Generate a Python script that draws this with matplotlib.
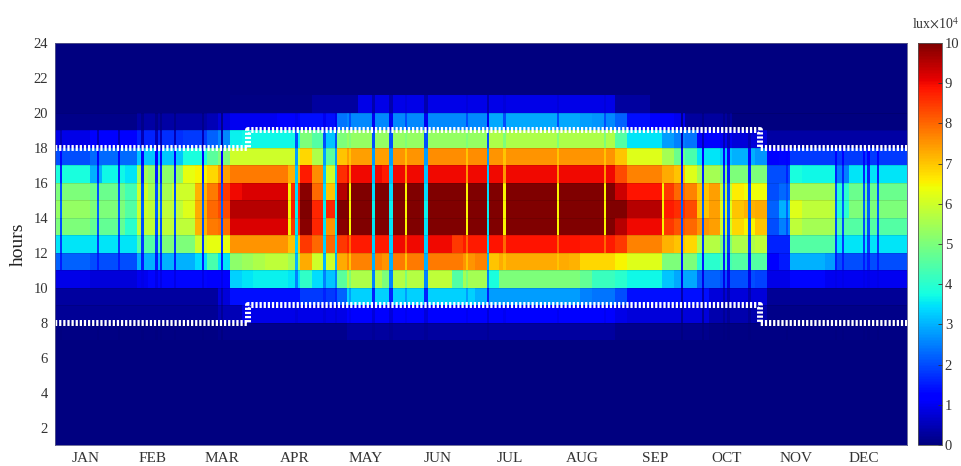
import numpy as np
import matplotlib
matplotlib.use('Agg')
import matplotlib.pyplot as plt

plt.rcParams['font.family'] = ['Liberation Serif', 'DejaVu Serif']

months = ['JAN', 'FEB', 'MAR', 'APR', 'MAY', 'JUN', 'JUL', 'AUG', 'SEP', 'OCT', 'NOV', 'DEC']
month_pos = [13, 41.6, 71.5, 102.8, 133, 164, 195, 226, 257, 287.5, 317.5, 346.6]

# illuminance in 10^4 lux, one value per 5 days (73 columns)
h7 = [.05, .05, .05, .05, .05, .05, .05, .05, .05, .05,
      .05, .05, .05, .05, .15, .15, .15, .15, .15, .15,
      .15, .15, .15, .15, .15, .3, .3, .3, .3, .3,
      .3, .3, .3, .3, .3, .3, .3, .3, .3, .3,
      .3, .3, .3, .3, .3, .3, .3, .3, .15, .15,
      .15, .15, .15, .15, .15, .15, .05, .05, .05, .05,
      .05, .05, .05, .05, .05, .05, .05, .05, .05, .05,
      .05, .05, .05]
h8 = [.2, .2, .2, .2, .2, .2, .2, .2, .2, .2,
      .2, .2, .2, .2, .5, .5, .9, .9, .9, .9,
      .9, .9, .9, .9, .9, 1.1, 1.1, 1.1, 1.1, 1.1,
      1.1, 1.1, 1.1, 1.1, 1.1, 1.1, 1.1, 1.1, 1.1, 1.1,
      1.1, 1.1, 1.1, 1.1, 1.1, 1.1, 1.1, 1.1, .9, .8,
      .8, .8, .8, .8, .8, .8, .4, .4, .4, .4,
      .4, .1, .1, .1, .1, .1, .1, .1, .1, .1,
      .1, .1, .1]
h9 = [.3, .3, .3, .3, .3, .3, .3, .3, .3, .3,
      .3, .3, .3, .3, .8, 1.4, 1.4, 1.4, 1.4, 1.4,
      1.4, 1.8, 1.8, 1.8, 2.2, 3.3, 3.3, 3.3, 3.3, 3.3,
      3.3, 3.3, 3.3, 3.3, 3.3, 3.3, 3.0, 2.8, 2.8, 2.8,
      2.8, 2.8, 2.8, 2.8, 2.8, 2.5, 2.4, 2.4, 2.0, 1.4,
      1.4, 1.4, 1.4, 1.4, 1.4, 1.4, .8, .8, .8, .8,
      .8, .2, .2, .2, .2, .2, .2, .2, .2, .2,
      .2, .2, .2]
h10 = [.9, .9, .9, .8, .8, .8, .8, 1.0, 1.3, 1.3,
       1.3, 1.3, 1.3, 1.2, 1.2, 3.3, 3.5, 3.6, 3.6, 3.6,
       3.5, 4.1, 3.4, 3.2, 4.6, 5.6, 5.6, 5.6, 5.0, 5.7,
       5.7, 5.7, 5.8, 5.8, 4.5, 5.5, 5.5, 3.8, 5.0, 5.0,
       5.0, 5.0, 5.0, 5.0, 5.0, 4.7, 4.2, 4.2, 4.0, 3.7,
       3.7, 3.7, 3.2, 2.9, 2.9, 2.2, 2.2, 2.0, 2.0, 2.0,
       1.9, .9, .9, 1.3, 1.3, 1.3, 1.0, 1.0, 1.0, 1.0,
       1.0, 1.0, 1.0]
h11 = [2.2, 2.2, 2.2, 2.0, 2.0, 2.0, 2.0, 3.0, 3.0, 3.0,
       3.0, 3.0, 3.4, 4.4, 3.5, 5.2, 5.4, 5.6, 5.8, 5.8,
       5.5, 7.3, 6.0, 6.0, 7.3, 7.7, 7.7, 7.7, 7.5, 7.8,
       7.8, 7.8, 7.8, 7.8, 7.8, 7.5, 7.7, 7.0, 7.3, 7.3,
       7.3, 7.3, 7.3, 7.3, 7.2, 6.8, 6.8, 6.8, 6.5, 6.2,
       6.2, 6.2, 5.0, 5.0, 5.0, 4.0, 4.0, 4.3, 4.5, 4.5,
       4.5, 1.2, 1.5, 3.0, 3.0, 3.0, 2.8, 2.0, 2.0, 2.0,
       2.0, 2.0, 2.0]
h12 = [3.5, 3.5, 3.5, 3.5, 3.5, 3.5, 3.5, 4.5, 4.5, 5.0,
       5.0, 5.0, 6.0, 6.3, 6.3, 7.5, 7.5, 7.5, 7.5, 7.5,
       7.0, 8.5, 8.0, 8.0, 8.5, 8.8, 8.8, 8.8, 8.8, 9.0,
       9.0, 9.0, 9.0, 9.0, 8.5, 8.8, 8.8, 8.9, 8.9, 8.9,
       8.9, 8.9, 8.9, 8.9, 8.9, 8.8, 8.8, 8.8, 8.5, 7.7,
       7.7, 7.7, 7.2, 7.0, 6.8, 5.7, 5.7, 5.0, 5.6, 5.6,
       5.8, 1.6, 1.6, 4.5, 4.5, 4.5, 4.5, 3.5, 3.5, 3.5,
       3.5, 3.5, 3.5]
h13 = [5.0, 5.0, 5.0, 4.7, 4.7, 4.7, 4.0, 5.8, 5.8, 5.8,
       5.8, 5.8, 7.2, 7.8, 7.9, 9.2, 9.2, 9.2, 9.2, 9.2,
       8.5, 9.9, 8.7, 7.5, 9.9, 10, 10, 10, 10, 10,
       10, 10, 10, 10, 10, 10, 10, 10, 10, 10,
       10, 10, 10, 10, 10, 10, 10, 10, 9.5, 9.0,
       9.0, 9.0, 8.5, 8.2, 8.0, 7.5, 7.4, 6.0, 6.8, 6.5,
       7.0, 2.0, 2.5, 5.8, 5.5, 5.5, 5.5, 4.5, 4.5, 4.5,
       4.5, 4.5, 4.5]
h14 = [5.3, 5.3, 5.3, 5.0, 5.0, 5.0, 4.5, 6.0, 5.8, 5.8,
       5.8, 6.2, 7.3, 8.0, 8.3, 9.5, 9.5, 9.5, 9.5, 9.5,
       8.8, 10, 8.7, 8.7, 10, 10, 10, 10, 10, 10,
       10, 10, 10, 10, 10, 10, 10, 10, 10, 10,
       10, 10, 10, 10, 10, 10, 10, 10, 10, 9.5,
       9.5, 9.5, 8.8, 8.6, 8.3, 7.0, 7.4, 6.2, 7.0, 7.2,
       7.3, 2.2, 3.0, 6.2, 5.8, 5.8, 5.8, 4.0, 5.0, 5.0,
       5.0, 5.0, 5.0]
h15 = [5.0, 5.0, 5.0, 4.8, 4.8, 4.8, 4.3, 6.0, 5.5, 5.5,
       6.0, 6.0, 7.2, 7.8, 8.5, 9.0, 9.2, 9.2, 9.2, 9.2,
       8.6, 9.9, 8.0, 7.0, 9.5, 10, 10, 10, 10, 10,
       10, 10, 10, 10, 10, 10, 10, 10, 10, 10,
       10, 10, 10, 10, 10, 10, 10, 10, 9.3, 8.9,
       8.9, 8.9, 8.5, 8.0, 7.7, 7.0, 7.4, 5.8, 6.6, 6.4,
       6.4, 2.0, 2.3, 5.4, 5.4, 5.4, 5.4, 4.0, 4.8, 4.8,
       4.8, 4.8, 4.8]
h16 = [3.8, 3.8, 3.8, 3.0, 3.7, 3.7, 3.5, 5.5, 5.2, 5.2,
       5.2, 6.3, 6.5, 6.8, 7.4, 7.8, 7.8, 7.8, 7.8, 7.8,
       7.2, 8.8, 7.6, 6.0, 8.6, 9.0, 9.0, 9.0, 8.8, 9.0,
       9.0, 9.0, 9.0, 9.0, 9.0, 9.0, 9.0, 9.0, 9.0, 9.0,
       9.0, 9.0, 9.0, 9.0, 9.0, 9.0, 9.0, 9.0, 8.3, 7.7,
       7.7, 7.7, 7.3, 7.0, 6.2, 5.5, 5.5, 5.0, 5.0, 5.0,
       5.0, 2.0, 2.0, 3.8, 3.7, 3.7, 3.7, 2.5, 3.5, 3.5,
       3.5, 3.5, 3.5]
h17 = [2.0, 2.0, 2.0, 2.3, 2.3, 2.3, 2.3, 3.2, 3.2, 3.2,
       3.2, 3.8, 3.8, 4.6, 5.0, 6.0, 6.0, 6.0, 6.0, 6.0,
       6.0, 6.8, 5.6, 4.6, 7.0, 7.4, 7.4, 7.4, 7.4, 7.5,
       7.5, 7.5, 7.6, 7.6, 7.6, 7.6, 7.6, 7.5, 7.5, 7.5,
       7.5, 7.5, 7.5, 7.5, 7.5, 7.5, 7.5, 7.5, 7.0, 6.2,
       6.2, 6.2, 5.5, 4.8, 4.4, 3.5, 3.5, 3.2, 3.0, 3.0,
       2.7, 1.2, 1.3, 1.8, 1.8, 1.8, 1.8, 1.8, 1.8, 1.8,
       1.8, 1.8, 1.8]
h18 = [.9, .9, .9, 1.2, 1.2, 1.2, 1.2, 1.6, 1.6, 1.7,
       1.7, 1.8, 1.8, 2.2, 2.6, 3.6, 3.7, 3.7, 3.7, 3.7,
       3.7, 5.0, 4.5, 3.2, 5.0, 5.3, 5.3, 5.3, 5.3, 5.3,
       5.3, 5.3, 5.3, 5.3, 5.3, 5.3, 5.3, 5.6, 5.6, 5.6,
       5.6, 5.6, 5.6, 5.6, 5.6, 5.6, 5.6, 5.6, 4.5, 3.5,
       3.5, 3.5, 2.8, 2.5, 2.4, 1.2, 1.2, 1.0, .8, .8,
       .8, .35, .35, .35, .35, .35, .35, .35, .35, .35,
       .35, .35, .35]
h19 = [.1, .1, .1, .1, .1, .1, .1, .35, .35, .35,
       .35, .35, .35, .5, .8, 1.0, 1.0, 1.0, 1.0, 1.1,
       1.2, 1.4, 1.4, 1.4, 2.4, 2.6, 2.6, 2.6, 2.6, 2.6,
       2.6, 2.6, 2.6, 2.6, 2.6, 2.6, 2.6, 2.9, 2.9, 2.9,
       2.9, 2.9, 2.9, 2.9, 2.9, 2.8, 2.7, 2.6, 2.2, 1.4,
       1.4, 1.2, 1.2, 1.0, .3, .3, .3, .3, 0, 0,
       0, 0, 0, 0, 0, 0, 0, 0, 0, 0,
       0, 0, 0]
h20 = [0, 0, 0, 0, 0, 0, 0, 0, 0, 0,
       0, 0, 0, 0, 0, .05, .05, .05, .05, .05,
       .05, .05, .3, .3, .3, .3, .9, .9, .9, .9,
       .9, .9, .9, .9, .9, .9, .9, .9, .9, .9,
       .9, .9, .9, .9, .9, .9, .9, .9, .3, .3,
       .3, 0, 0, 0, 0, 0, 0, 0, 0, 0,
       0, 0, 0, 0, 0, 0, 0, 0, 0, 0,
       0, 0, 0]

first_hour = 7
# overcast single days, hours 7..20
dull_winter = [0, .2, .4, .9, 1.5, 1.8, 2.0, 2.2, 2.0, 1.6, 1.1, .5, .1, 0]
dull_summer = [.2, .8, 1.6, 2.5, 3.0, 3.3, 3.5, 3.6, 3.4, 3.2, 2.8, 2.0, 1.0, .4]
mild_summer = [.3, 1.0, 2.8, 5.0, 7.0, 8.0, 6.5, 6.5, 6.5, 7.5, 7.0, 5.0, 2.0, .8]
winter_days = [2, 18, 27, 37, 43, 45, 51, 63, 71, 268, 277, 286, 288, 297, 313, 334, 337, 346, 348, 352]
summer_days = [103, 115, 120, 136, 143, 144, 158, 159, 185]
mild_days = [100, 126, 150, 176, 192, 215, 235, 260]

# white dashed day-length limits
limit_x = [0, 82.7, 82.7, 302, 302, 365]
sunrise = [8, 8, 9, 9, 8, 8]
sunset = [18, 18, 19, 19, 18, 18]

cols = np.vstack([h7, h8, h9, h10, h11, h12, h13, h14, h15, h16, h17, h18, h19, h20])
data = np.zeros((23, 365))
data[first_hour - 1:first_hour - 1 + len(cols), :] = np.repeat(cols, 5, axis=1)
for days, col in [(winter_days, dull_winter), (summer_days, dull_summer), (mild_days, mild_summer)]:
    for d in days:
        data[first_hour - 1:first_hour + 13, d] = np.minimum(data[first_hour - 1:first_hour + 13, d], col)

W, H = 962, 466
fig = plt.figure(figsize=(W / 100, H / 100), dpi=100)
ax = fig.add_axes([55 / W, (H - 445) / H, 852 / W, 402 / H])
mesh = ax.pcolormesh(np.arange(366), np.arange(1, 25), data, cmap='jet', vmin=0, vmax=10, shading='flat')
ax.hlines(np.arange(8, 21), 0, 365, color='#000000', lw=0.4, alpha=0.18)

for y in (sunrise, sunset):
    ax.plot(limit_x, y, color='white', lw=4.3, ls=(0, (0.38, 0.31)), dash_capstyle='butt')

ax.set_xlim(0, 365)
ax.set_ylim(1, 24)
ax.set_xticks(month_pos)
ax.set_xticklabels(months)
ax.set_yticks(np.arange(2, 25, 2))
ax.tick_params(axis='both', length=0, labelsize=10.5, labelcolor='#333333')
ax.tick_params(axis='x', labelsize=11, pad=5)
ax.tick_params(axis='y', pad=5)
ax.set_ylabel('hours', fontsize=14, color='#222222', labelpad=5)
for s in ax.spines.values():
    s.set_color('#5a5a8a')
    s.set_linewidth(0.6)

cax = fig.add_axes([918 / W, (H - 445) / H, 24 / W, 402 / H])
cb = fig.colorbar(mesh, cax=cax)
cb.set_ticks(np.arange(0, 11))
cb.ax.tick_params(length=3, width=0.6, direction='in', color='#333333', labelsize=10.5, labelcolor='#333333', pad=2)
cb.outline.set_edgecolor('#555555')
cb.outline.set_linewidth(0.6)
fig.text(912 / W, (H - 24) / H, r'lux$\times$10$^4$', fontsize=10, color='#333333', va='center',
         math_fontfamily='stix')

fig.savefig('out.png', dpi=100)
